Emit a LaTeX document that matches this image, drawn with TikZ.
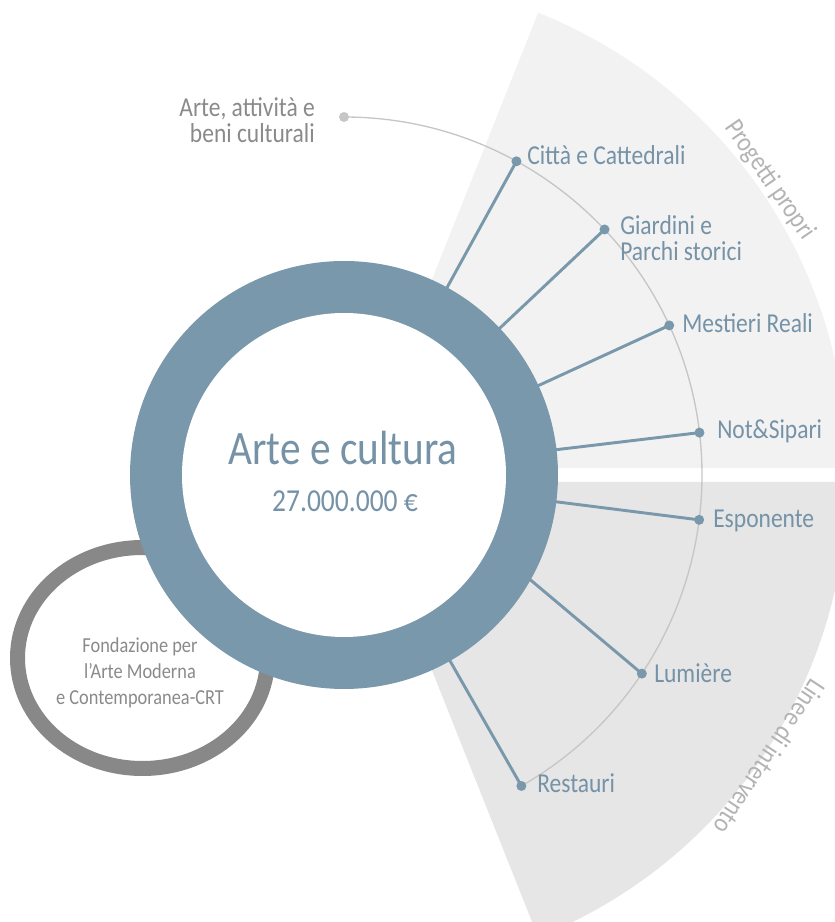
\documentclass[tikz,border=0pt]{standalone}
\usepackage{fontspec}
\setmainfont{Carlito}[FakeStretch=0.86]
\usepackage{tikz}
\usetikzlibrary{positioning}

\definecolor{ringblue}{HTML}{7A98AB}
\definecolor{labelblue}{HTML}{7592A7}
\definecolor{ringgray}{HTML}{888888}
\definecolor{textgray}{HTML}{8A8A8A}
\definecolor{captiongray}{HTML}{B3B3B3}
\definecolor{upperfill}{HTML}{F2F2F2}
\definecolor{lowerfill}{HTML}{E6E6E6}
\definecolor{arcgray}{HTML}{C6C6C6}

\tikzset{
	leafdot/.style={circle,fill=ringblue,inner sep=0pt,minimum size=7.5pt},
	spoke/.style={ringblue,line width=2.2pt},
	lbl/.style={labelblue,anchor=base west,inner sep=0pt,font=\fontsize{20.5}{19.5}\selectfont},
	graylbl/.style={textgray,inner sep=0pt,font=\fontsize{20.5}{19.5}\selectfont},
	caption/.style={captiongray,inner sep=0pt,font=\fontsize{20.5}{19.5}\selectfont}
}

\begin{document}
\begin{tikzpicture}[x=0.75pt,y=0.75pt]
	\useasboundingbox (0,0) rectangle (835,922);
	\clip (0,0) rectangle (835,922);
	\coordinate (c) at (344,447);
	\fill[upperfill] (357,454) -- ++(0:490) arc[start angle=0,end angle=68.3,radius=490] -- cycle;
	\fill[lowerfill] (357,440) -- ++(0:490) arc[start angle=0,end angle=-68.3,radius=490] -- cycle;
	\draw[ringgray,line width=11.25pt] (142.5,264) ellipse[x radius=125,y radius=110.5];
	\node[textgray,inner sep=0pt,align=center,font=\fontsize{16}{19.5}\selectfont] (fondazione) at (140,249)
		{Fondazione per\\l'Arte Moderna\\e Contemporanea-CRT};
	\begin{scope}[shift={(c)}]
		\node[leafdot,fill=arcgray] (arte) at (90:358) {};
		\draw[arcgray,line width=1pt] (arte.center) arc[start angle=90,end angle=-60.3,radius=358];
		\foreach \name/\ang in {citta/61.2,giardini/43.3,mestieri/24.7,notesipari/6.8,esponente/-7.2,lumiere/-33.7,restauri/-60.3}
			\node[leafdot] (\name) at (\ang:358) {};
		\coordinate (lumierestart) at (-28.6:200);
		\foreach \name in {citta,giardini,mestieri,notesipari,esponente,restauri}
			\draw[spoke] (c) -- (\name.center);
		\draw[spoke] (lumierestart) -- (lumiere.center);
		\fill[ringblue] (0,0) circle[radius=214];
		\fill[white] (0,0) circle[radius=162];
		\node[caption,rotate=-55.3] (progetti) at (34.7:518) {Progetti propri};
		\node[caption,rotate=-123.5] (linee) at (-33.5:511) {Linee di intervento};
	\end{scope}
	\node[labelblue,anchor=base,inner sep=0pt,font=\fontsize{36}{40}\selectfont] (titolo) at (343,457) {Arte e cultura};
	\node[labelblue,anchor=base,inner sep=0pt,font=\fontsize{24}{28}\selectfont] (importo) at (345,410) {27.000.000 €};
	\node[graylbl,align=right,anchor=east] (artelbl) at (315,801.5) {Arte, attività e\\beni culturali};
	\node[lbl] (cittalbl) at (527,757) {Città e Cattedrali};
	\node[lbl,align=left,anchor=west] (giardinilbl) at (620,683.5) {Giardini e\\Parchi storici};
	\node[lbl] (mestierilbl) at (682,589) {Mestieri Reali};
	\node[lbl] (notesiparilbl) at (717,483) {Not\&Sipari};
	\node[lbl] (esponentelbl) at (713,394) {Esponente};
	\node[lbl] (lumierelbl) at (654,239) {Lumière};
	\node[lbl] (restaurilbl) at (537,129) {Restauri};
\end{tikzpicture}
\end{document}
